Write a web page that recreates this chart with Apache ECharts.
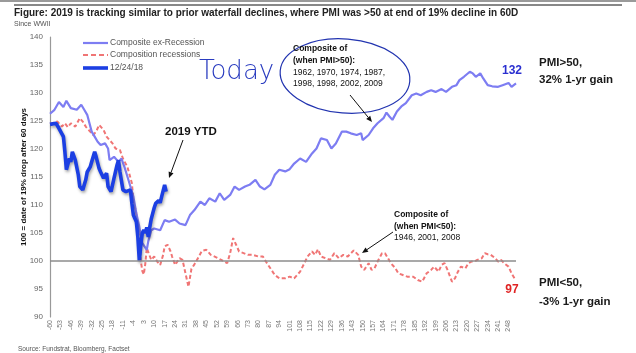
<!DOCTYPE html>
<html>
<head>
<meta charset="utf-8">
<script src="https://cdn.jsdelivr.net/npm/echarts@6/dist/echarts.min.js"></script>
<style>
  html, body { margin: 0; padding: 0; background: #fff; }
  #chart { width: 636px; height: 353px; }
</style>
</head>
<body>
<div id="chart"></div>
<script>
// day 0 = date of 19% drop, axis runs from day -60
const DAY0 = -60
const tickDays = 7

// Composite ex-Recession
const exDays = [-60, -57, -54, -51, -49, -46, -42, -39, -37, -35, -32, -30, -28, -26, -23, -21, -20, -17, -14, -12,
  -10, -7, -4, -2, 0, 2, 5, 6, 8, 10, 14, 17, 20, 24, 27, 31, 34, 37, 41, 44, 47, 51, 54, 57, 61, 64, 67, 71, 74, 78,
  81, 84, 88, 91, 94, 98, 101, 104, 108, 112, 116, 119, 122, 126, 129, 132, 136, 139, 142, 146, 149, 150, 154, 157,
  160, 164, 166, 168, 170, 173, 176, 179, 183, 186, 189, 193, 196, 199, 203, 206, 210, 213, 215, 218, 222, 224, 226,
  229, 231, 234, 237, 241, 244, 248, 250, 253]
const exVals = [126.3, 127, 128.4, 127.5, 128.6, 127.3, 127, 127.9, 127, 126.1, 123.1, 122.2, 121.3, 120.7, 121, 120.1, 118, 118.6, 117.7, 118.3,
  116.8, 114.2, 111.5, 108.5, 106.1, 103.2, 102, 103.5, 105.5, 105.8, 105.5, 107.3, 107, 107.4, 106.7, 106.4, 108.2, 109.1, 110.6, 110, 111.2, 110.6, 112.1, 110.9, 111.8, 113.3, 112.7, 113.3, 113.6, 114.5,
  113.3, 112.8, 113.6, 115.4, 116.3, 116, 116.4, 117.4, 118.3, 117.7, 119.2, 120.1, 121.9, 121.6, 120.1, 121, 123.1, 123.1, 122.8, 122.5, 122.8, 121.6, 122.5, 123.7,
  124.6, 125.5, 126.5, 125.8, 125.2, 126.7, 127.6, 128.2, 129.6, 129.9, 129.6, 130.2, 130.5, 130.2, 130.7, 130.2, 131.1, 131.4, 132.3, 132.9, 133.8, 133.5, 132.9,
  133.5, 132.6, 131.4, 131.2, 131.1, 131.4, 131.8, 131.1, 131.7]

// Composition recessions
const recDays = [-60, -55, -52, -50, -48, -46, -43, -40, -38, -36, -33, -31, -29, -27, -24, -22, -20, -18, -16, -13,
  -11, -10, -8, -5, -4, -2, 0, 1, 2, 3, 4, 5, 8, 10, 12, 14, 16, 17, 19, 21, 22, 24, 27, 29, 31, 33, 35, 37, 40, 42,
  45, 48, 52, 55, 59, 61, 63, 65, 67, 70, 73, 76, 80, 83, 85, 88, 91, 94, 98, 101, 104, 108, 111, 113, 116, 118, 120,
  122, 125, 128, 131, 134, 137, 140, 144, 147, 149, 151, 154, 156, 158, 160, 163, 165, 167, 169, 172, 174, 177, 180,
  184, 187, 190, 193, 196, 198, 201, 203, 205, 207, 210, 212, 214, 216, 219, 221, 223, 225, 227, 230, 232, 234, 236,
  239, 241, 243, 245, 248, 250, 252]
const recVals = [124.5, 124.9, 124, 124.6, 123.9, 124.6, 124, 125.5, 124.9, 124, 123.1, 122.5, 123.1, 124.3, 123.4, 122.2, 121.6, 121, 120.1, 119.8,
  118.3, 118.6, 116.8, 113.9, 110.9, 108.5, 103.5, 100, 98.2, 97.6, 99.5, 102.3, 100.2, 100.8, 99.9, 99.3, 101.1, 102.6, 102.9, 101.7, 100.8, 99.3, 100.5, 100.2, 97.8, 95.4, 98.6, 99.4, 100.8, 101.8,
  102, 101.1, 100.6, 100.2, 99.6, 101.4, 104.1, 102.9, 101.7, 101.4, 101.1, 101.1, 100.8, 100.8, 99.9, 98.7, 97.5, 96.9, 96.9, 97.2, 96.9, 98.1, 99.7, 100.8, 101.7, 101.1, 102.1,
  100.8, 100.5, 100.2, 101.4, 100.5, 101.1, 100.8, 101.9, 101.1, 99, 98.4, 99.6, 98.4, 98.7, 99.9, 101.4, 101.4, 100.5, 99.6, 98.7, 97.8, 97.5, 97.2,
  97.2, 96.6, 96.3, 97.8, 98.4, 99, 98.1, 99.3, 99.6, 98.4, 96.3, 96.9, 98.1, 99, 98.7, 99.6, 99.9, 99.9, 100.2, 100.5, 101.4, 101.2, 101.1,
  100.5, 99.9, 100.2, 99.6, 99, 97.8, 96.9]

// 12/24/18 (2019 YTD)
const ytdDays = [-60, -56, -54, -51, -50, -49, -47, -46, -45, -43, -41, -40, -38, -36, -35, -33, -32, -30, -29, -27,
  -26, -24, -22, -21, -19, -17, -15, -14, -13, -11, -9, -6, -5, -4, -2, -1, 0, 1, 2, 3, 4, 5, 6, 7, 8, 9, 10, 11,
  12, 13, 14, 15, 16, 17, 18]
const ytdVals = [124.4, 124.6, 123.7, 122.2, 119.5, 116.3, 118.3, 117.7, 119.5, 118, 115.4, 113.3, 112.7, 114.5, 115.9, 116.8, 117.7, 119.5, 118.6, 116.5,
  115.9, 114.8, 115.7, 113.3, 112.4, 114.8, 117.1, 118, 115.9, 112.7, 112.4, 112.7, 110.3, 108.2, 107, 104.3, 100, 102.8, 105, 105.5, 105, 106, 104.3, 106,
  107.5, 108.5, 109.5, 110.3, 110, 110.8, 110.4, 111.5, 111.8, 113.6, 112.4]

const yTicks = { min: 90, max: 140, step: 5 }

const toPairs = (days, vals) => days.map((d, i) => [d - DAY0, vals[i]])

const FONT = '"Liberation Sans", Arial, sans-serif'

const colors = { ex: '#7d7df2', rec: '#f07575', ytd: '#1c3fe3' }

// small arrow for annotations
const arrow = (x1, y1, x2, y2) => {
  const a = Math.atan2(y2 - y1, x2 - x1)
  const L = 6, W = 2.6
  const bx = x2 - L * Math.cos(a), by = y2 - L * Math.sin(a)
  return {
    type: 'group',
    children: [
      { type: 'line', shape: { x1, y1, x2: bx, y2: by }, style: { stroke: '#111', lineWidth: 1 } },
      {
        type: 'polygon',
        shape: { points: [[x2, y2], [bx + W * Math.sin(a), by - W * Math.cos(a)], [bx - W * Math.sin(a), by + W * Math.cos(a)]] },
        style: { fill: '#111' }
      }
    ]
  }
}

const txt = (text, x, y, font, fill, extra) => ({
  type: 'text',
  style: Object.assign({ text, x, y, font, fill, verticalAlign: 'middle' }, extra || {})
})

// legend drawn by hand (line samples + labels)
const legendRow = (y, label, lineStyle) => ([
  { type: 'line', shape: { x1: 83, y1: y, x2: 108, y2: y }, style: lineStyle },
  txt(label, 110, y, '8.5px ' + FONT, '#555')
])

const chart = echarts.init(document.getElementById('chart'))

const option = {
  animation: false,
  textStyle: { fontFamily: FONT },
  grid: { left: 50, top: 37, width: 466, height: 280 },
  xAxis: {
    type: 'value',
    min: 0,
    max: 313,
    interval: tickDays,
    axisLine: { show: false },
    axisTick: { show: false },
    splitLine: { show: false },
    axisLabel: {
      rotate: 90,
      fontSize: 7,
      color: '#777',
      margin: 3,
      formatter: v => (v % tickDays === 0 ? String(v + DAY0) : '')
    }
  },
  yAxis: {
    type: 'value',
    min: yTicks.min,
    max: yTicks.max,
    interval: yTicks.step,
    name: '100 = date of 19% drop after 60 days',
    nameLocation: 'middle',
    nameGap: 22,
    nameMoveOverlap: false,
    nameTextStyle: { fontSize: 8, fontWeight: 'bold', color: '#111', fontFamily: FONT },
    axisLine: { show: true, lineStyle: { color: '#999', width: 1.2 } },
    axisTick: { show: false },
    splitLine: { show: false },
    axisLabel: { fontSize: 8, color: '#666', margin: 7 }
  },
  series: [
    {
      name: 'Composite ex-Recession',
      type: 'line',
      data: toPairs(exDays, exVals),
      symbol: 'none',
      lineStyle: { color: colors.ex, width: 2.2 },
      z: 3,
      markLine: {
        silent: true,
        symbol: 'none',
        label: { show: false },
        lineStyle: { color: '#8c8c8c', width: 1.5, type: 'solid' },
        data: [{ yAxis: 100 }]
      }
    },
    {
      name: 'Composition recessions',
      type: 'line',
      data: toPairs(recDays, recVals),
      symbol: 'none',
      lineStyle: { color: colors.rec, width: 2, type: [4, 2.5] },
      z: 2
    },
    {
      name: '12/24/18',
      type: 'line',
      data: toPairs(ytdDays, ytdVals),
      symbol: 'none',
      lineStyle: {
        color: colors.ytd,
        width: 3.6,
        shadowColor: 'rgba(0,0,0,0.35)',
        shadowBlur: 3,
        shadowOffsetX: 1,
        shadowOffsetY: 2
      },
      z: 4
    }
  ],
  graphic: [
    { type: 'rect', shape: { x: 0, y: 0, width: 636, height: 2 }, style: { fill: '#9a9a9a' } },
    { type: 'line', shape: { x1: 14, y1: 5, x2: 622, y2: 5 }, style: { stroke: '#111', lineWidth: 1 } },
    txt('Figure: 2019 is tracking similar to prior waterfall declines, where PMI was >50 at end of 19% decline in 60D', 14, 13, 'bold 10px ' + FONT, '#222'),
    txt('Since WWII', 14, 24, '7px ' + FONT, '#555'),
    txt('Source: Fundstrat, Bloomberg, Factset', 18, 349, '6.5px ' + FONT, '#555'),
    ...legendRow(43, 'Composite ex-Recession', { stroke: colors.ex, lineWidth: 2.2 }),
    ...legendRow(55, 'Composition recessions', { stroke: colors.rec, lineWidth: 2, lineDash: [5, 3] }),
    ...legendRow(68, '12/24/18', { stroke: colors.ytd, lineWidth: 3.6 }),
    txt('2019 YTD', 165, 132, 'bold 11.5px ' + FONT, '#111'),
    arrow(183, 140, 169, 178),
    txt('Today', 199, 72, '200 26px "DejaVu Sans", sans-serif', '#2a3cc0'),
    {
      type: 'ellipse',
      shape: { cx: 345, cy: 76, rx: 65, ry: 37 },
      rotation: -0.08,
      originX: 345,
      originY: 76,
      style: { fill: 'none', stroke: '#2234b0', lineWidth: 1.2 }
    },
    txt('Composite of', 293, 49, 'bold 8.5px ' + FONT, '#111'),
    txt('(when PMI>50):', 293, 61, 'bold 8.5px ' + FONT, '#111'),
    txt('1962, 1970, 1974, 1987,', 293, 73, '8.5px ' + FONT, '#111'),
    txt('1998, 1998, 2002, 2009', 293, 84, '8.5px ' + FONT, '#111'),
    arrow(350, 95, 372, 122),
    txt('132', 512, 71, 'bold 12px ' + FONT, '#2a2fd0', { align: 'center' }),
    txt('PMI>50,', 539, 63, 'bold 11.5px ' + FONT, '#1a1a1a'),
    txt('32% 1-yr gain', 539, 80, 'bold 11.5px ' + FONT, '#1a1a1a'),
    txt('Composite of', 394, 215, 'bold 8.5px ' + FONT, '#111'),
    txt('(when PMI<50):', 394, 227, 'bold 8.5px ' + FONT, '#111'),
    txt('1946, 2001, 2008', 394, 238, '8.5px ' + FONT, '#111'),
    arrow(393, 232, 362, 253),
    txt('97', 512, 290, 'bold 12px ' + FONT, '#e02424', { align: 'center' }),
    txt('PMI<50,', 539, 283, 'bold 11.5px ' + FONT, '#1a1a1a'),
    txt('-3% 1-yr gain', 539, 302, 'bold 11.5px ' + FONT, '#1a1a1a')
  ]
}

chart.setOption(option)
</script>
</body>
</html>
